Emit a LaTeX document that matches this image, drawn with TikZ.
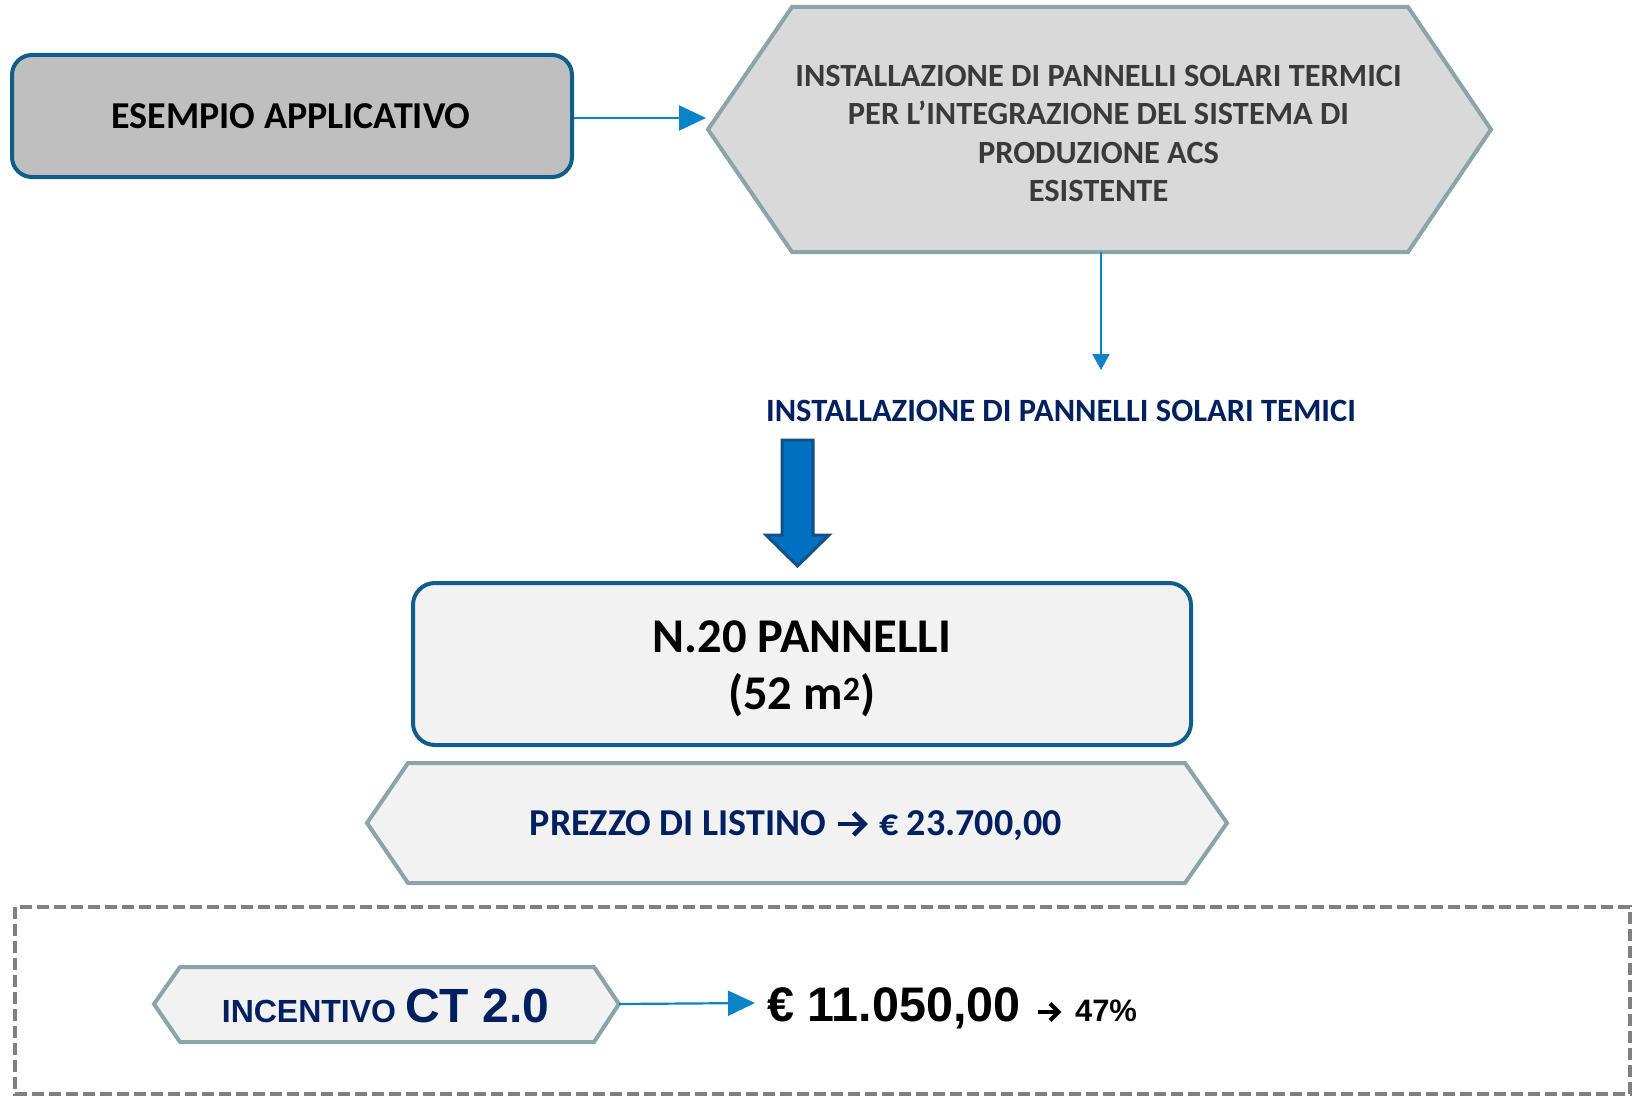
\documentclass[tikz,border=0pt]{standalone}
\usepackage{fontspec}
\setmainfont{Carlito}
\newfontfamily\arialf{Liberation Sans}
\usetikzlibrary{arrows.meta}
\definecolor{boxblue}{HTML}{105D8A}
\definecolor{boxgray}{HTML}{BFBFBF}
\definecolor{hexgray}{HTML}{8AA4A8}
\definecolor{hexfill}{HTML}{D9D9D9}
\definecolor{lightfill}{HTML}{F2F2F2}
\definecolor{arrowblue}{HTML}{0A84C6}
\definecolor{blockblue}{HTML}{0070C0}
\definecolor{blockedge}{HTML}{13508A}
\definecolor{navy}{HTML}{002060}
\definecolor{darktext}{HTML}{3A3A3A}
\definecolor{dashgray}{HTML}{808080}
\begin{document}
\begin{tikzpicture}[x=1pt,y=-1pt,
  roundbox/.style={draw=boxblue, line width=4pt, rounded corners=20pt, inner sep=0pt},
  hexa/.style={draw=hexgray, line width=4pt, line join=miter},
  conn/.style={draw=arrowblue, line width=2.2pt, -{Triangle[length=27pt, width=25pt]}},
  connsmall/.style={draw=arrowblue, line width=2.2pt, -{Triangle[length=16pt, width=17pt]}},
  dashbox/.style={draw=dashgray, line width=3.2pt, dash pattern=on 12pt off 5pt},
  plain/.style={inner sep=0pt, outer sep=0pt},
  chev/.style={line cap=butt, line join=miter},
]
\useasboundingbox (0,0) rectangle (1632,1097);

% Box 1
\node[roundbox, fill=boxgray, minimum width=560pt, minimum height=122pt] (b1) at (292,116) {};
\node[plain, anchor=base, font=\fontsize{38}{45}\selectfont\bfseries, text=black] (b1t) at (291,128.5) {ESEMPIO APPLICATIVO};

% Hexagon 1
\draw[hexa, fill=hexfill] (792,7) -- (1408,7) -- (1491,129.5) -- (1408,252) -- (792,252) -- (708,129.5) -- cycle;
\coordinate (h1in) at (706,118);
\coordinate (h1s) at (1101,252);
\node[plain, align=center, text=darktext, font=\fontsize{32.4}{38.2}\selectfont\bfseries] (h1) at (1098.5,133.5)
  {INSTALLAZIONE DI PANNELLI SOLARI TERMICI\\PER L’INTEGRAZIONE DEL SISTEMA DI\\PRODUZIONE ACS\\ESISTENTE};

\draw[conn] (b1.east |- h1in) -- (h1in);

% Down arrow + label
\coordinate (a2end) at (1101,370);
\draw[connsmall] (h1s) -- (a2end);
\node[plain, anchor=base, text=navy, font=\fontsize{32.5}{38}\selectfont\bfseries] (t1) at (1061,421.7) {INSTALLAZIONE DI PANNELLI SOLARI TEMICI};

% Block arrow
\draw[fill=blockblue, draw=blockedge, line width=3pt, line join=miter]
  (782,440) -- (813,440) -- (813,535) -- (829,535) -- (797.5,566) -- (766,535) -- (782,535) -- cycle;

% Box 2
\node[roundbox, fill=lightfill, rounded corners=22pt, minimum width=778pt, minimum height=162pt] (b2) at (802,664) {};
\node[plain, align=center, text=black, font=\fontsize{48.5}{57}\selectfont\bfseries] (b2t) at (802,669)
  {N.20 PANNELLI\\(52 m\textsuperscript{\fontsize{34}{40}\selectfont 2})};

% Hexagon 2
\draw[hexa, fill=lightfill] (408,763) -- (1185,763) -- (1227,823) -- (1185,883) -- (408,883) -- (367,823) -- cycle;
\node[plain, anchor=base east, text=navy, font=\fontsize{38}{44}\selectfont\bfseries] (h2a) at (826,835) {PREZZO DI LISTINO};
\node[plain, anchor=base west, text=navy, font=\fontsize{38}{44}\selectfont\bfseries] (h2b) at (879,835) {€ 23.700,00};
\draw[chev, navy, line width=4.8pt] (838,824) -- (864,824);
\draw[chev, navy, line width=4.6pt] (853.5,813) -- (864.5,824) -- (853.5,835);

% Dashed frame
\draw[dashbox] (15,907) rectangle (1630,1094);

% Hexagon 3
\draw[hexa, fill=lightfill] (180,967) -- (594,967) -- (619,1004) -- (594,1042) -- (180,1042) -- (154,1004) -- cycle;
\coordinate (h3e) at (619,1004);
\node[plain, anchor=base, text=navy, font=\arialf\bfseries] (h3) at (385.5,1022.7)
  {{\fontsize{32}{38}\selectfont INCENTIVO}\hspace{9pt}{\fontsize{48}{56}\selectfont CT 2.0}};

% Result
\node[plain, anchor=base west, text=black, font=\arialf\bfseries\fontsize{48.5}{56}\selectfont] (res) at (767,1021.7) {€ 11.050,00};
\draw[chev, black, line width=4pt] (1038,1012) -- (1058,1012);
\draw[chev, black, line width=4pt] (1050,1003.5) -- (1058.5,1012) -- (1050,1020.5);
\node[plain, anchor=base west, text=black, font=\arialf\bfseries\fontsize{31}{37}\selectfont] (pct) at (1075,1021.7) {47\%};
\coordinate (resin) at (755,1003);
\draw[conn] (h3e) -- (resin);
\end{tikzpicture}
\end{document}
